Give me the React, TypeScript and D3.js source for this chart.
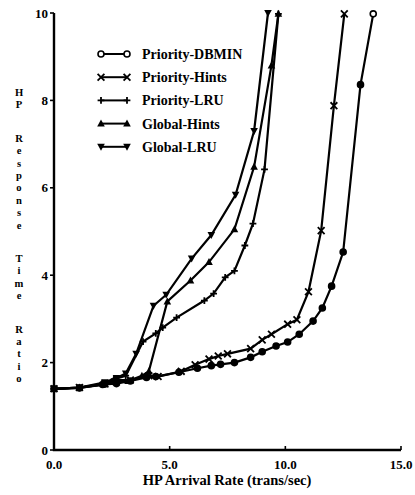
import React from "react";
import * as d3 from "d3";

const xTicks = [0, 5, 10, 15];
const xTickLabels = ["0.0", "5.0", "10.0", "15.0"];
const yTicks = [0, 2, 4, 6, 8, 10];

const dbminX = [0, 1.1, 2.1, 2.7, 3.3, 4.0, 4.4, 5.4, 6.2, 6.8, 7.2, 7.8, 8.5, 9.0, 9.6, 10.1, 10.6, 11.2, 11.6, 12.0, 12.5, 13.25, 13.8];
const dbminY = [1.4, 1.42, 1.5, 1.52, 1.58, 1.66, 1.68, 1.78, 1.87, 1.93, 1.96, 2.0, 2.12, 2.25, 2.38, 2.47, 2.65, 2.95, 3.25, 3.75, 4.53, 8.36, 9.98];

const pHintsX = [0, 1.1, 2.2, 2.7, 3.3, 4.1, 4.5, 5.5, 6.1, 6.7, 7.1, 7.5, 8.5, 9.0, 9.4, 10.1, 10.5, 11.0, 11.55, 12.1, 12.55];
const pHintsY = [1.4, 1.43, 1.52, 1.6, 1.6, 1.7, 1.68, 1.8, 1.95, 2.08, 2.15, 2.2, 2.32, 2.52, 2.65, 2.88, 2.98, 3.62, 5.02, 7.88, 9.98];

const pLruX = [0, 1.1, 2.2, 2.6, 3.1, 3.85, 4.4, 4.7, 5.3, 6.5, 6.9, 7.4, 7.8, 8.25, 8.6, 9.1, 9.7];
const pLruY = [1.4, 1.42, 1.5, 1.62, 1.7, 2.48, 2.67, 2.8, 3.03, 3.42, 3.58, 3.95, 4.1, 4.68, 5.18, 6.42, 9.98];

const gHintsX = [0, 1.1, 2.2, 2.7, 3.2, 3.8, 4.1, 4.9, 5.9, 6.7, 7.8, 8.65, 9.4, 9.7];
const gHintsY = [1.4, 1.43, 1.5, 1.55, 1.58, 1.7, 1.8, 3.4, 3.88, 4.3, 5.05, 6.48, 8.8, 9.98];

const gLruX = [0, 1.1, 2.2, 2.7, 3.1, 3.55, 4.3, 4.85, 5.95, 6.8, 7.85, 8.65, 9.25];
const gLruY = [1.4, 1.43, 1.55, 1.65, 1.75, 2.2, 3.3, 3.55, 4.38, 4.92, 5.84, 7.3, 10.0];

const seriesNames = ["Priority-DBMIN", "Priority-Hints", "Priority-LRU", "Global-Hints", "Global-LRU"];
const seriesMarkers = ["circle", "cross", "plus", "triUp", "triDown"];

const yTitle = "HP Response Time Ratio";

const FONT = "'Liberation Serif', 'DejaVu Serif', serif";

function Marker({ kind, x, y, open }: { kind: string; x: number; y: number; open?: boolean }) {
  const s = 3.4;
  if (kind === "circle")
    return <circle cx={x} cy={y} r={3} fill={open ? "#fff" : "#000"} stroke="#000" strokeWidth={1.6} />;
  if (kind === "cross")
    return (
      <path d={`M${x - s},${y - s}L${x + s},${y + s}M${x - s},${y + s}L${x + s},${y - s}`} stroke="#000" strokeWidth={1.8} />
    );
  if (kind === "plus")
    return <path d={`M${x - s},${y}L${x + s},${y}M${x},${y - s}L${x},${y + s}`} stroke="#000" strokeWidth={1.8} />;
  if (kind === "triUp")
    return <path d={`M${x},${y - 4}L${x + 3.8},${y + 3}L${x - 3.8},${y + 3}Z`} fill="#000" />;
  return <path d={`M${x},${y + 4}L${x + 3.8},${y - 3}L${x - 3.8},${y - 3}Z`} fill="#000" />;
}

export default function App() {
  const x = d3.scaleLinear().domain([0, 15]).range([54, 401]);
  const y = d3.scaleLinear().domain([0, 10]).range([450, 13]);
  const data = [
    [dbminX, dbminY],
    [pHintsX, pHintsY],
    [pLruX, pLruY],
    [gHintsX, gHintsY],
    [gLruX, gLruY],
  ];
  const line = d3
    .line<[number, number]>()
    .x((d) => x(d[0]))
    .y((d) => y(d[1]));

  // vertical letters of y title
  const letters: { ch: string; y: number }[] = [];
  let cy = 92;
  for (const ch of yTitle) {
    if (ch === " ") {
      cy += 21;
      continue;
    }
    letters.push({ ch, y: cy });
    cy += 12.4;
  }

  return (
    <svg width={415} height={495} style={{ position: "absolute", left: 0, top: 0, background: "#fff" }}>
      <rect width={415} height={495} fill="#fff" />
      {/* axes */}
      <path d={`M${x(0)},${y(10)}L${x(0)},${y(0)}L${x(15)},${y(0)}`} fill="none" stroke="#000" strokeWidth={2.4} />
      {yTicks.map((t) => (
        <g key={"y" + t}>
          <line x1={x(0) - 4} x2={x(0)} y1={y(t)} y2={y(t)} stroke="#000" strokeWidth={1.6} />
          <text x={x(0) - 6} y={y(t) + 4.5} textAnchor="end" fontFamily={FONT} fontWeight="bold" fontSize={13}>
            {t}
          </text>
        </g>
      ))}
      {xTicks.map((t, i) => (
        <g key={"x" + t}>
          <line x1={x(t)} x2={x(t)} y1={y(0)} y2={y(0) - 4} stroke="#000" strokeWidth={1.6} />
          <text x={x(t)} y={469} textAnchor="middle" fontFamily={FONT} fontWeight="bold" fontSize={13}>
            {xTickLabels[i]}
          </text>
        </g>
      ))}
      <text x={227} y={485} textAnchor="middle" fontFamily={FONT} fontWeight="bold" fontSize={14.5}>
        HP Arrival Rate (trans/sec)
      </text>
      {letters.map((l, i) => (
        <text key={i} x={19} y={l.y + 4} textAnchor="middle" fontFamily={FONT} fontWeight="bold" fontSize={10.6}>
          {l.ch}
        </text>
      ))}
      {/* series */}
      {data.map(([xs, ys], si) => {
        const pts = xs.map((v, i) => [v, ys[i]] as [number, number]);
        return (
          <g key={si}>
            <path d={line(pts) || ""} fill="none" stroke="#000" strokeWidth={2.2} />
            {pts.map((p, i) => (
              <Marker
                key={i}
                kind={seriesMarkers[si]}
                x={x(p[0])}
                y={y(p[1])}
                open={si === 0 && i === pts.length - 1}
              />
            ))}
          </g>
        );
      })}
      {/* legend */}
      {seriesNames.map((n, i) => {
        const ly = 54 + i * 23.2;
        return (
          <g key={n}>
            <line x1={101} x2={127} y1={ly} y2={ly} stroke="#000" strokeWidth={2} />
            <Marker kind={seriesMarkers[i]} x={101} y={ly} open={i === 0} />
            <Marker kind={seriesMarkers[i]} x={127} y={ly} open={i === 0} />
            <text x={142} y={ly + 5} fontFamily={FONT} fontWeight="bold" fontSize={14}>
              {n}
            </text>
          </g>
        );
      })}
    </svg>
  );
}
